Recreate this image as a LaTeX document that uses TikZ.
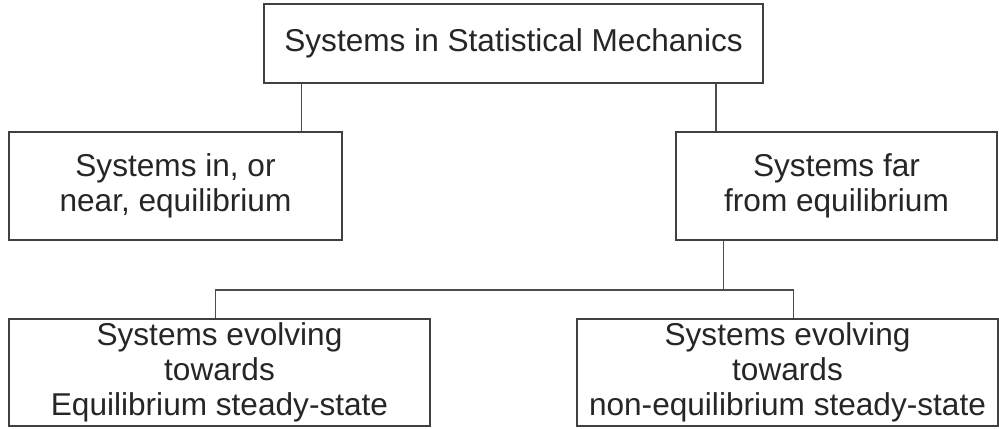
\documentclass[tikz,border=0pt]{standalone}
\usepackage{fontspec}
\setmainfont{Liberation Sans}
\usetikzlibrary{positioning}

\tikzset{
  sysbox/.style={draw=black!75, line width=0.75pt, align=center, inner sep=0pt,
    font=\fontsize{15.8}{17.5}\selectfont, text=black!85},
  link/.style={draw=black!70, line width=0.75pt}
}

\begin{document}
\begin{tikzpicture}[x=0.5pt, y=-0.5pt]
\useasboundingbox (0,0) rectangle (999,428);

% boxes
\node[sysbox, minimum width=249.5pt, minimum height=39.5pt] (stat) at (513.5,43.5) {Systems in Statistical Mechanics};
\node[sysbox, minimum width=166.5pt, minimum height=54pt] (neareq) at (175.5,186) {Systems in, or\\near, equilibrium};
\node[sysbox, minimum width=160.5pt, minimum height=54pt] (fareq) at (836.5,186) {Systems far\\from equilibrium};
\node[sysbox, minimum width=210.5pt, minimum height=53.5pt] (eqss) at (219.5,372.5) {Systems evolving\\towards\\Equilibrium steady-state};
\node[sysbox, minimum width=210.5pt, minimum height=53.5pt] (neqss) at (787.5,372.5) {Systems evolving\\towards\\non-equilibrium steady-state};

% links from the top box
\draw[link] ([xshift=19pt]stat.south west) -- ([xshift=19pt]stat.south west |- neareq.north);
\draw[link] ([xshift=-24pt]stat.south east) -- ([xshift=-24pt]stat.south east |- fareq.north);

% split below the far-from-equilibrium box
\coordinate (split) at ([xshift=24pt, yshift=-24.5pt]fareq.south west);
\draw[link] ([xshift=24pt]fareq.south west) -- (split);
\draw[link] ([xshift=-2pt]eqss.north) |- (split) -| ([xshift=3pt]neqss.north);

\end{tikzpicture}
\end{document}
